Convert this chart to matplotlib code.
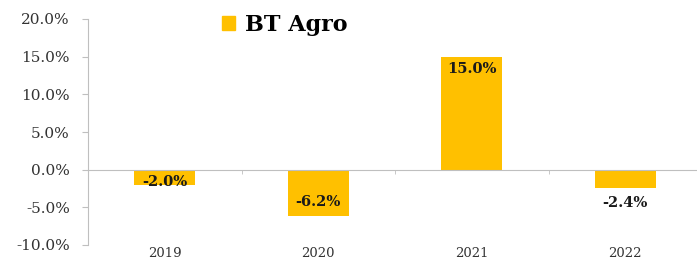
import matplotlib
matplotlib.use("Agg")
import matplotlib.pyplot as plt
from matplotlib.patches import Patch

# data
years = ["2019", "2020", "2021", "2022"]
growth = [-2.0, -6.2, 15.0, -2.4]
series_name = "BT Agro"

# label offsets in points (relative to bar end), picked to match the source
label_offsets = [2, 10, -9, -11]

bar_color = "#FFC000"
grey = "#BFBFBF"
serif = ["DejaVu Serif"]

fig = plt.figure(figsize=(6.97, 2.62), dpi=100)
ax = fig.add_axes([88 / 697, 1 - 245 / 262, 614 / 697, (245 - 19) / 262])

x = list(range(len(years)))
ax.bar(x, growth, width=0.4, color=bar_color, zorder=2)

for xi, v, off in zip(x, growth, label_offsets):
    ax.annotate(f"{v:.1f}%", (xi, v), xytext=(0, off), textcoords="offset points",
                ha="center", va="center", fontsize=10.5, fontweight="bold",
                family=serif, color="#1a1a1a")

ax.set_xlim(-0.5, 3.5)
ax.set_ylim(-10, 20)
ax.set_yticks([-10, -5, 0, 5, 10, 15, 20])
ax.set_yticklabels([f"{t:.1f}%" for t in ax.get_yticks()], family=serif, fontsize=11, color="#333333")
ax.tick_params(axis="y", length=4, color=grey, pad=9)

# zero line with category boundary ticks; labels pushed to the bottom
ax.spines["bottom"].set_position(("data", 0))
ax.spines["bottom"].set_color(grey)
ax.spines["left"].set_color(grey)
ax.spines["top"].set_visible(False)
ax.spines["right"].set_visible(False)
ax.set_xticks(x)
ax.set_xticklabels(years, family=serif, fontsize=9.5, color="#333333")
ax.tick_params(axis="x", which="major", length=0, pad=56)
ax.set_xticks([0.5, 1.5, 2.5, 3.5], minor=True)
ax.tick_params(axis="x", which="minor", length=3, color=grey, direction="out")

leg = ax.legend(handles=[Patch(color=bar_color, label=series_name)], loc="upper left",
                bbox_to_anchor=(0.185, 1.11), frameon=False, handlelength=0.6, handleheight=0.6,
                handletextpad=0.45, prop={"family": serif, "weight": "bold", "size": 16})

fig.savefig("out.png", dpi=100)
